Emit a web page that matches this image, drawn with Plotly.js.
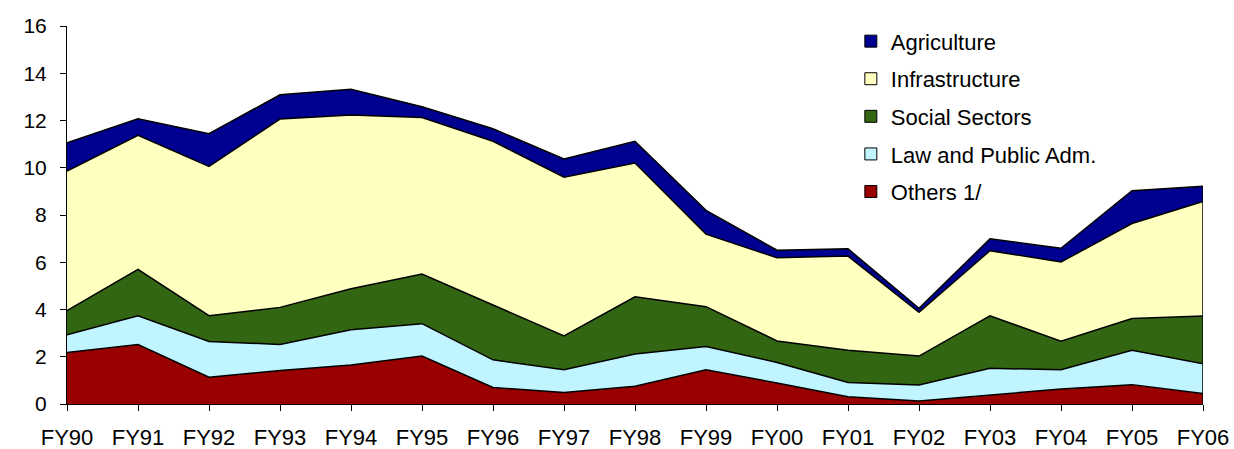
<!DOCTYPE html>
<html>
<head>
<meta charset="utf-8">
<script src="https://cdn.plot.ly/plotly-3.0.1.min.js"></script>
<style>html,body{margin:0;padding:0;background:#fff;}#chart{width:1234px;height:449px;}</style>
</head>
<body>
<div id="chart"></div>
<script>
var years = ["FY90","FY91","FY92","FY93","FY94","FY95","FY96","FY97","FY98","FY99","FY00","FY01","FY02","FY03","FY04","FY05","FY06"];
var others = [2.18,2.52,1.13,1.42,1.65,2.03,0.70,0.49,0.75,1.45,0.89,0.31,0.13,0.37,0.63,0.82,0.44];
var lawPublic = [0.75,1.21,1.52,1.10,1.49,1.37,1.17,0.96,1.37,0.98,0.87,0.60,0.67,1.14,0.82,1.45,1.26];
var socialSectors = [1.02,1.97,1.09,1.57,1.74,2.10,2.32,1.43,2.42,1.69,0.91,1.37,1.23,2.22,1.21,1.35,2.03];
var infrastructure = [5.91,5.67,6.32,7.97,7.35,6.63,6.93,6.72,5.66,3.07,3.52,3.98,1.85,2.76,3.35,4.02,4.84];
var agriculture = [1.20,0.70,1.38,1.03,1.09,0.45,0.53,0.77,0.92,1.01,0.32,0.31,0.17,0.50,0.58,1.39,0.65];
var yTicks = [0,2,4,6,8,10,12,14,16];

var series = [
  {name:"Others 1/", y:others, color:"#990000"},
  {name:"Law and Public Adm.", y:lawPublic, color:"#C0F5FF"},
  {name:"Social Sectors", y:socialSectors, color:"#336613"},
  {name:"Infrastructure", y:infrastructure, color:"#FFFFC0"},
  {name:"Agriculture", y:agriculture, color:"#000090"}
];

var traces = [];
series.forEach(function(s){
  traces.push({
    type:"scatter", x:years, y:s.y, name:s.name, stackgroup:"one",
    mode:"lines", line:{color:"#000", width:1.5, shape:"linear"},
    fillcolor:s.color, showlegend:false, hoverinfo:"x+y+name"
  });
});
// right edge outline computed from data
var lastIdx = years.length-1;
var total = series.reduce(function(a,s){return a + s.y[lastIdx];},0);
traces.push({type:"scatter", x:[years[lastIdx],years[lastIdx]], y:[0,total], mode:"lines",
  line:{color:"#000",width:1.5}, showlegend:false, hoverinfo:"skip"});
// legend swatches
series.slice().reverse().forEach(function(s,i){
  traces.push({type:"scatter", x:[years[0]], y:[null], name:s.name, mode:"markers",
    legendgroup:"g"+i, legendrank: i+1,
    marker:{symbol:"square", size:12, color:s.color, line:{color:"#000", width:1}},
    showlegend:true, hoverinfo:"skip"});
});

var layout = {
  width:1234, height:449,
  margin:{l:67, r:31, t:26, b:45, pad:0},
  paper_bgcolor:"#fff", plot_bgcolor:"#fff",
  font:{family:"Liberation Sans, Arial, sans-serif", size:22, color:"#000"},
  showlegend:true,
  legend:{x:0.69, y:1.015, xanchor:"left", yanchor:"top", bgcolor:"rgba(0,0,0,0)",
    font:{size:22, color:"#000"}, tracegroupgap:6, traceorder:"grouped", itemwidth:30},
  xaxis:{type:"category", range:[0, years.length-1], showgrid:false, zeroline:false,
    showline:true, linecolor:"#000", linewidth:1, ticks:"outside", ticklen:6, tickcolor:"#000",
    ticklabelstandoff:8, tickfont:{size:22}},
  yaxis:{range:[0,16], tickvals:yTicks, ticktext:yTicks.map(String), showgrid:false, zeroline:false,
    showline:true, linecolor:"#000", linewidth:1, ticks:"outside", ticklen:6, tickcolor:"#000",
    ticklabelstandoff:9, tickfont:{size:21}}
};

Plotly.newPlot("chart", traces, layout, {displayModeBar:false, staticPlot:true});
</script>
</body>
</html>
